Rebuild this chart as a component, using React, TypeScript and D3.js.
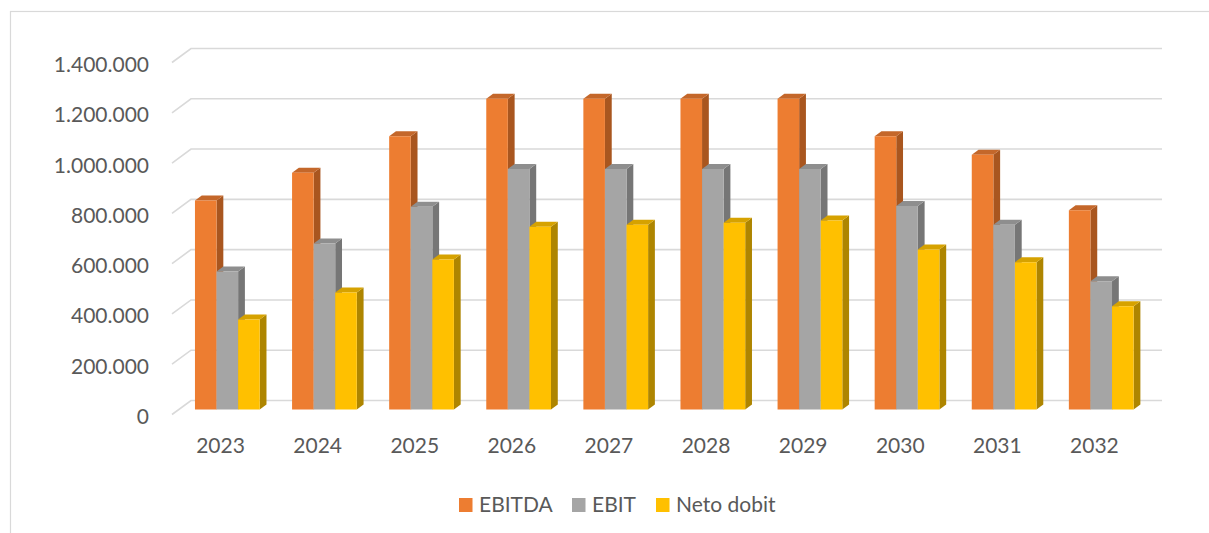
import React from 'react';
import * as d3 from 'd3';

const years = ['2023', '2024', '2025', '2026', '2027', '2028', '2029', '2030', '2031', '2032'];
const ebitda = [831000, 942000, 1087000, 1236000, 1236000, 1236000, 1236000, 1087000, 1013000, 792000];
const ebit = [549000, 660000, 806000, 957000, 957000, 957000, 957000, 809000, 735000, 510000];
const neto = [358000, 465000, 597000, 727000, 735000, 743000, 752000, 636000, 586000, 411000];
const seriesNames = ['EBITDA', 'EBIT', 'Neto dobit'];
const yTicks = [0, 200000, 400000, 600000, 800000, 1000000, 1200000, 1400000];

// face colours: front, side, top
const palette = [
  ['#ED7D31', '#A9561F', '#C4672A'],
  ['#A5A5A5', '#767676', '#8E8E8E'],
  ['#FFC000', '#AE8500', '#D6A200'],
];

const W = 1209;
const H = 533;
const DX = 19; // depth offset of the whole floor
const DY = 14;
const zF = 0.357; // bar front / back depth
const zB = 0.714;

const fmt = d3.formatLocale({ thousands: '.', grouping: [3], decimal: ',', currency: ['', ''] }).format(',');

const App = () => {
  const series = [ebitda, ebit, neto];
  const x = d3.scaleBand().domain(years).range([172, 1143]).padding(0);
  const y = d3.scaleLinear().domain([0, 1400000]).range([400.5, 48.5]);
  const bw = x.bandwidth() / 4.5;

  // oblique projection: z=0 front, z=1 back wall
  const px = (sx: number, z: number) => sx + z * DX;
  const py = (v: number, z: number) => y(v) + (1 - z) * DY;
  const pt = (sx: number, v: number, z: number) => `${px(sx, z)},${py(v, z)}`;

  const font = 'Lato, "Open Sans", sans-serif';

  return (
    <svg width={W} height={H} style={{ position: 'absolute', left: 0, top: 0, background: '#fff' }}>
      <rect x={10.5} y={11.5} width={1400} height={700} fill="none" stroke="#D9D9D9" strokeWidth={1.2} />

      {/* gridlines */}
      {yTicks.map(t => (
        <polyline
          key={t}
          points={`${pt(172, t, 0)} ${pt(172, t, 1)} ${pt(1143, t, 1)}`}
          fill="none"
          stroke="#D9D9D9"
          strokeWidth={1.6}
        />
      ))}

      {/* y labels */}
      {yTicks.map(t => (
        <text
          key={'l' + t}
          x={149}
          y={py(t, 0) + 2}
          dy="0.36em"
          textAnchor="end"
          fontFamily={font}
          fontSize={21}
          fill="#595959"
        >
          {fmt(t)}
        </text>
      ))}

      {/* bars */}
      {years.map((yr, i) => (
        <g key={yr}>
          {series.map((s, k) => {
            const v = s[i];
            const x0 = (x(yr) as number) + 0.75 * bw + k * bw;
            const x1 = x0 + bw;
            const [cf, cs, ct] = palette[k];
            return (
              <g key={k}>
                <polygon points={`${pt(x1, v, zF)} ${pt(x1, v, zB)} ${pt(x1, 0, zB)} ${pt(x1, 0, zF)}`} fill={cs} />
                <polygon points={`${pt(x0, v, zF)} ${pt(x1, v, zF)} ${pt(x1, v, zB)} ${pt(x0, v, zB)}`} fill={ct} />
                <polygon points={`${pt(x0, v, zF)} ${pt(x1, v, zF)} ${pt(x1, 0, zF)} ${pt(x0, 0, zF)}`} fill={cf} />
              </g>
            );
          })}
        </g>
      ))}

      {/* x labels */}
      {years.map(yr => (
        <text
          key={'x' + yr}
          x={(x(yr) as number) + x.bandwidth() / 2}
          y={453}
          textAnchor="middle"
          fontFamily={font}
          fontSize={21}
          fill="#595959"
        >
          {yr}
        </text>
      ))}

      {/* legend */}
      {seriesNames.map((name, k) => {
        const lx = [459, 572, 656][k];
        return (
          <g key={name}>
            <rect x={lx} y={498} width={13.5} height={14} fill={palette[k][0]} />
            <text x={lx + 20} y={512} fontFamily={font} fontSize={21} fill="#595959">
              {name}
            </text>
          </g>
        );
      })}
    </svg>
  );
};

export default App;
